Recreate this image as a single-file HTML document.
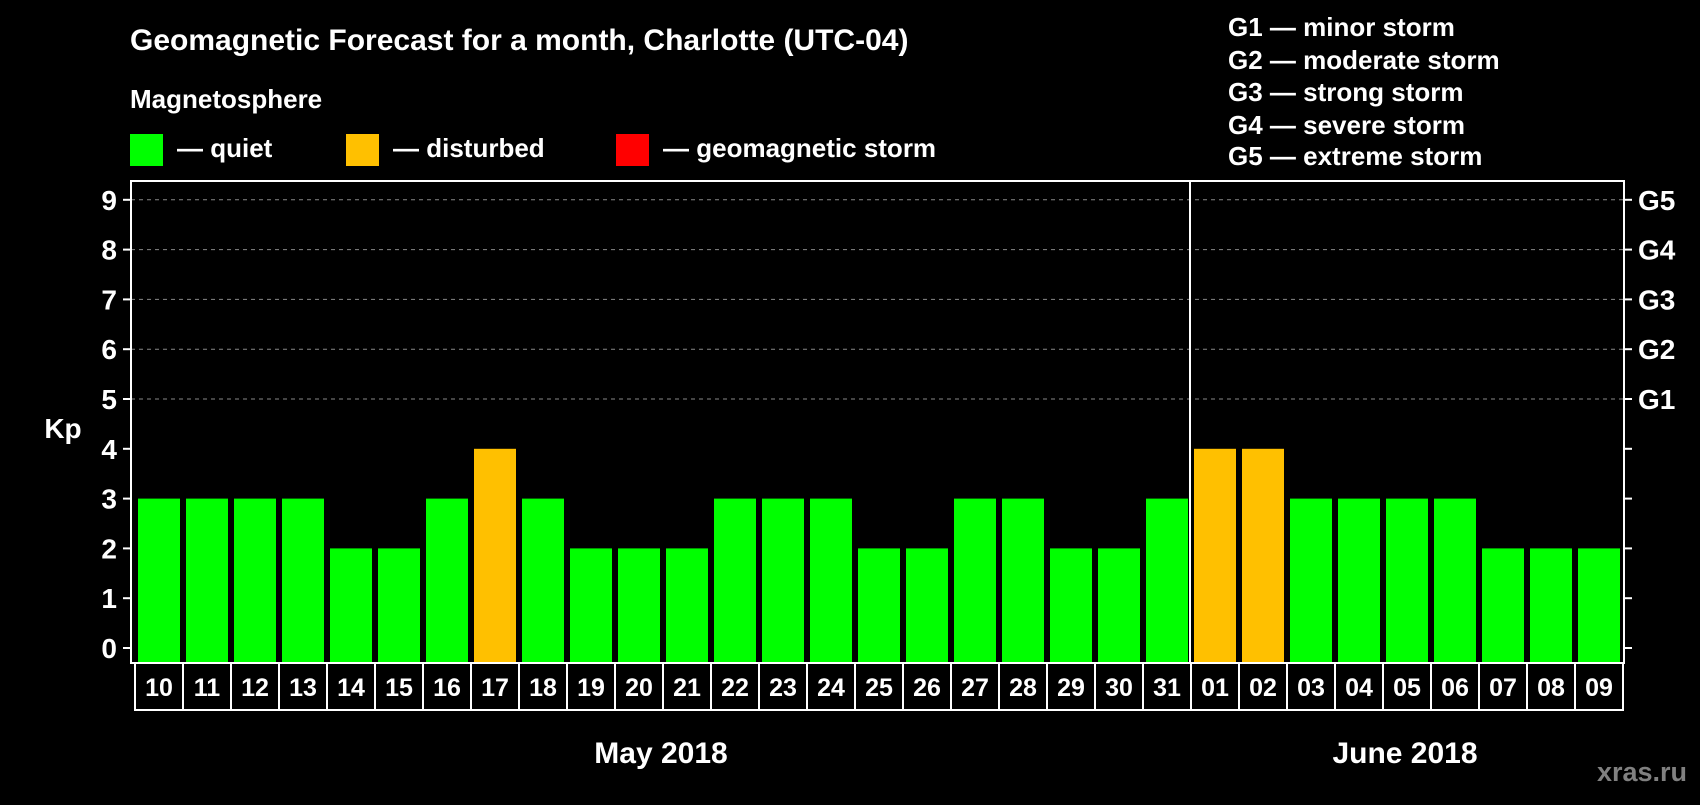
<!DOCTYPE html>
<html><head><meta charset="utf-8"><style>
body{margin:0;background:#000;width:1700px;height:800px;overflow:hidden;font-family:"Liberation Sans",sans-serif;}
svg text{font-family:"Liberation Sans",sans-serif;font-weight:bold;fill:#fff;}
</style></head><body>
<svg id="chart" width="1700" height="800">
<text x="130" y="50" font-size="30">Geomagnetic Forecast for a month, Charlotte (UTC-04)</text>
<text x="130" y="108" font-size="26">Magnetosphere</text>
<rect x="130" y="134" width="33" height="32" fill="#00ff00"/>
<text x="177" y="157" font-size="26">— quiet</text>
<rect x="346" y="134" width="33" height="32" fill="#ffc000"/>
<text x="393" y="157" font-size="26">— disturbed</text>
<rect x="616" y="134" width="33" height="32" fill="#ff0000"/>
<text x="663" y="157" font-size="26">— geomagnetic storm</text>
<g font-size="26">
<text x="1228" y="36">G1 — minor storm</text>
<text x="1228" y="69">G2 — moderate storm</text>
<text x="1228" y="101">G3 — strong storm</text>
<text x="1228" y="134">G4 — severe storm</text>
<text x="1228" y="165">G5 — extreme storm</text>
</g>
<text x="63" y="438" font-size="28" text-anchor="middle">Kp</text>
<g id="grid"></g><g id="bars"></g><g id="xlabels"></g>
<rect x="131" y="181" width="1493" height="482" fill="none" stroke="#fff" stroke-width="2"/>
<line x1="1190" y1="181" x2="1190" y2="663" stroke="#fff" stroke-width="2"/>
<text x="661" y="763" font-size="30" text-anchor="middle">May 2018</text>
<text x="1405" y="763" font-size="30" text-anchor="middle">June 2018</text>
<text x="1642" y="781" font-size="27" style="fill:#808080" text-anchor="middle">xras.ru</text>
</svg>
<script>
const days=["10","11","12","13","14","15","16","17","18","19","20","21","22","23","24","25","26","27","28","29","30","31","01","02","03","04","05","06","07","08","09"];
const kp=[3,3,3,3,2,2,3,4,3,2,2,2,3,3,3,2,2,3,3,2,2,3,4,4,3,3,3,3,2,2,2];
const yTicks=["0","1","2","3","4","5","6","7","8","9"];
const gLabels=["","","","","","G1","G2","G3","G4","G5"];
const NS="http://www.w3.org/2000/svg";
const x0=135,x1=1623,plotBottom=663;
const n=days.length;
const pitch=(x1-x0)/n;
function y(v){return 648-v*49.8;}
function xs(i){return x0+i*pitch;}
function mk(t,a,p){const e=document.createElementNS(NS,t);for(const k in a)e.setAttribute(k,a[k]);p.appendChild(e);return e;}
const grid=document.getElementById('grid');
yTicks.forEach((t,i)=>{
  const v=+t;
  if(v>=5){const l=mk('line',{x1:131,x2:1624,y1:y(v),y2:y(v),stroke:'#888','stroke-dasharray':'4,4','stroke-width':1},grid);
  
  }
  const tk=mk('line',{x1:123,x2:131,y1:y(v),y2:y(v),stroke:'#fff','stroke-width':2},grid);
  
  
  const tk2=mk('line',{x1:1624,x2:1632,y1:y(v),y2:y(v),stroke:'#fff','stroke-width':2},grid);
  
  
  const tx=mk('text',{x:117,y:y(v)+10,'font-size':28,'text-anchor':'end'},grid);tx.textContent=t;
  
  
  if(gLabels[i]){const g=mk('text',{x:1638,y:y(v)+10,'font-size':28},grid);g.textContent=gLabels[i];
  
  }
});
const bars=document.getElementById('bars'),xl=document.getElementById('xlabels');
const bw=42;
kp.forEach((v,i)=>{
  const cx=xs(i)+pitch/2;
  const col=v>=5?'#ff0000':(v>=4?'#ffc000':'#00ff00');
  const r=mk('rect',{x:cx-bw/2,y:y(v),width:bw,height:plotBottom-1-y(v),fill:col},bars);
  
  
  const b=mk('rect',{x:xs(i),y:663,width:pitch,height:47,fill:'none',stroke:'#fff','stroke-width':2},xl);
  
  
  const t=mk('text',{x:cx,y:696,'font-size':25,'text-anchor':'middle'},xl);t.textContent=days[i];
  
  
});
</script>
</body></html>
